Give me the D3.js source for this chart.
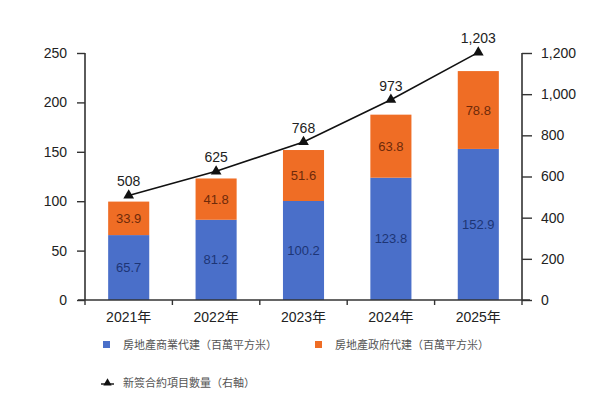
<!doctype html>
<html lang="zh-Hant">
<head>
<meta charset="utf-8">
<title>新簽合約</title>
<script src="https://d3js.org/d3.v7.min.js"></script>
<style>
  body { margin: 0; background: #fff; }
  text { font-family: "Liberation Sans", Arial, "Noto Sans CJK TC", sans-serif; }
</style>
</head>
<body>
<div id="chart"></div>
<script>
// data
var years = ["2021年", "2022年", "2023年", "2024年", "2025年"];
var commercial = [65.7, 81.2, 100.2, 123.8, 152.9];
var government = [33.9, 41.8, 51.6, 63.8, 78.8];
var contracts = [508, 625, 768, 973, 1203];
var leftTicks = [0, 50, 100, 150, 200, 250];
var rightTicks = [0, 200, 400, 600, 800, 1000, 1200];
var legendNames = ["房地產商業代建（百萬平方米）", "房地產政府代建（百萬平方米）", "新簽合約項目數量（右軸）"];

var blue = "#4a6fc9", orange = "#ef6d25";

var svg = d3.select("#chart").append("svg")
  .attr("width", 600).attr("height", 397);

var x = d3.scaleBand().domain(years).range([85, 522]).paddingInner(0.53).paddingOuter(0.265);
var yL = d3.scaleLinear().domain([0, 250]).range([300, 53]);
var yR = d3.scaleLinear().domain([0, 1200]).range([300, 53]);

// bars
var g = svg.append("g");
years.forEach(function(yr, i) {
  g.append("rect").attr("x", x(yr)).attr("width", x.bandwidth())
    .attr("y", yL(commercial[i])).attr("height", yL(0) - yL(commercial[i]))
    .attr("fill", blue);
  g.append("rect").attr("x", x(yr)).attr("width", x.bandwidth())
    .attr("y", yL(commercial[i] + government[i])).attr("height", yL(0) - yL(government[i]))
    .attr("fill", orange);
  g.append("text").attr("x", x(yr) + x.bandwidth() / 2)
    .attr("y", yL(commercial[i] / 2)).attr("dy", "0.35em")
    .attr("text-anchor", "middle").attr("font-size", 13).attr("fill", "#1d3575")
    .text(commercial[i].toFixed(1));
  g.append("text").attr("x", x(yr) + x.bandwidth() / 2)
    .attr("y", yL(commercial[i] + government[i] / 2)).attr("dy", "0.35em")
    .attr("text-anchor", "middle").attr("font-size", 13).attr("fill", "#6e2a0a")
    .text(government[i].toFixed(1));
});

// axes
var axL = svg.append("g").attr("transform", "translate(85,0)")
  .call(d3.axisLeft(yL).tickValues(leftTicks).tickSize(8).tickPadding(10));
var axR = svg.append("g").attr("transform", "translate(522,0)")
  .call(d3.axisRight(yR).tickValues(rightTicks).tickSize(10).tickPadding(9).tickFormat(d3.format(",")));
var axB = svg.append("g").attr("transform", "translate(0,300)")
  .call(d3.axisBottom(x).tickSize(0).tickPadding(12));

[axL, axR, axB].forEach(function(a) {
  a.select(".domain").attr("stroke", "#333").attr("stroke-width", 1.6);
  a.selectAll(".tick line").attr("stroke", "#333").attr("stroke-width", 1.4);
  a.selectAll("text").attr("font-size", 14).attr("fill", "#222")
    .style("font-family", "'Liberation Sans', Arial, 'Noto Sans CJK TC', sans-serif");
});
axL.select(".domain").attr("d", "M0,53V300");
axR.select(".domain").attr("d", "M0,53V300");
axB.select(".domain").attr("d", "M78,0H530");

// category boundary ticks on x axis
var edges = [85].concat(years.map(function(yr) { return x(yr) + x.bandwidth() + (x.step() - x.bandwidth()) / 2; }));
svg.append("g").selectAll("line").data(edges).join("line")
  .attr("x1", function(d) { return d; }).attr("x2", function(d) { return d; })
  .attr("y1", 300).attr("y2", 305)
  .attr("stroke", "#333").attr("stroke-width", 1.4);

// line series on right axis
var line = d3.line()
  .x(function(d, i) { return x(years[i]) + x.bandwidth() / 2; })
  .y(function(d) { return yR(d); });
svg.append("path").datum(contracts).attr("d", line)
  .attr("fill", "none").attr("stroke", "#111").attr("stroke-width", 1.6);

var tri = d3.symbol().type(d3.symbolTriangle).size(50);
svg.append("g").selectAll("path").data(contracts).join("path")
  .attr("d", tri)
  .attr("transform", function(d, i) { return "translate(" + (x(years[i]) + x.bandwidth() / 2) + "," + yR(d) + ")"; })
  .attr("fill", "#111");
svg.append("g").selectAll("text").data(contracts).join("text")
  .attr("x", function(d, i) { return x(years[i]) + x.bandwidth() / 2; })
  .attr("y", function(d) { return yR(d) - 9; })
  .attr("text-anchor", "middle").attr("font-size", 14).attr("fill", "#222")
  .text(d3.format(","));

// legend
var lg = svg.append("g").attr("font-size", 11).attr("fill", "#555");
lg.append("rect").attr("x", 103).attr("y", 341).attr("width", 7).attr("height", 7).attr("fill", blue);
lg.append("text").attr("x", 123).attr("y", 345).attr("dy", "0.35em").text(legendNames[0]);
lg.append("rect").attr("x", 315).attr("y", 341).attr("width", 7).attr("height", 7).attr("fill", orange);
lg.append("text").attr("x", 335).attr("y", 345).attr("dy", "0.35em").text(legendNames[1]);
lg.append("line").attr("x1", 101).attr("x2", 114).attr("y1", 384).attr("y2", 384).attr("stroke", "#111").attr("stroke-width", 1.4);
lg.append("path").attr("d", d3.symbol().type(d3.symbolTriangle).size(30))
  .attr("transform", "translate(107.5,383)").attr("fill", "#111");
lg.append("text").attr("x", 123).attr("y", 383).attr("dy", "0.35em").text(legendNames[2]);
</script>
</body>
</html>
